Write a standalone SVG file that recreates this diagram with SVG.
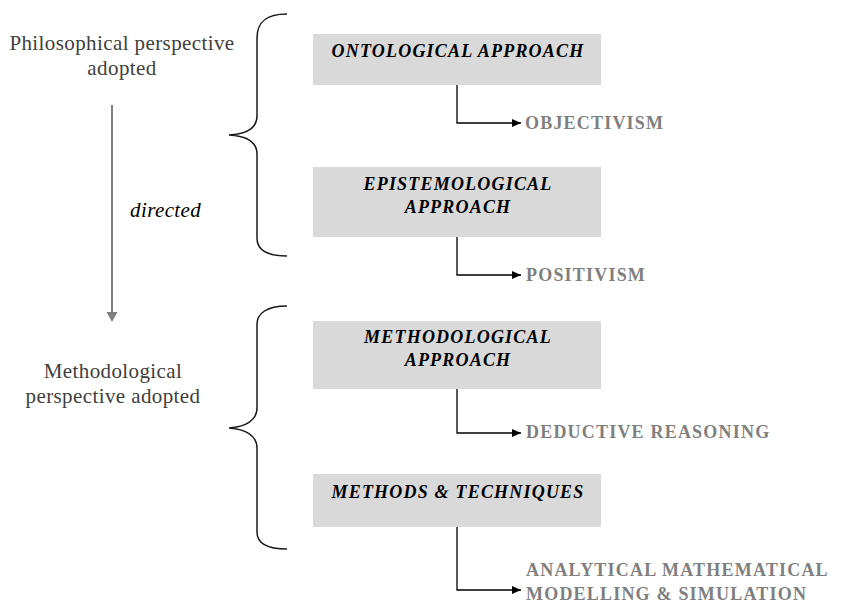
<svg xmlns="http://www.w3.org/2000/svg" width="841" height="604" viewBox="0 0 841 604" font-family="'Liberation Serif', 'DejaVu Serif', serif">
<style>
.box{fill:#d9d9d9}
.bt{font-size:18px;font-weight:bold;font-style:italic;fill:#000;letter-spacing:1.2px;text-anchor:middle}
.lab{font-size:18px;font-weight:bold;fill:#7f7f7f;letter-spacing:1.2px}
.side{font-size:21px;fill:#404040;letter-spacing:0.4px;text-anchor:middle}
.conn{fill:none;stroke:#000;stroke-width:1.3}
.brace{fill:none;stroke:#1a1a1a;stroke-width:1.5}
</style>
<defs>
<marker id="ah" markerWidth="9" markerHeight="8" refX="9" refY="4" orient="auto" markerUnits="userSpaceOnUse">
<path d="M0,0 L9,4 L0,8 Z" fill="#000"/>
</marker>
</defs>
<rect width="841" height="604" fill="#fff"/>

<g id="label-philosophical">
<text class="side" x="122" y="50">Philosophical perspective</text>
<text class="side" x="122" y="75">adopted</text>
</g>
<g id="label-methodological">
<text class="side" x="113" y="378">Methodological</text>
<text class="side" x="113" y="403">perspective adopted</text>
</g>
<g id="directed-arrow">
<line x1="112" y1="105" x2="112" y2="313" stroke="#7f7f7f" stroke-width="2"/>
<path d="M106.5,312 L117.5,312 L112,322 Z" fill="#7f7f7f"/>
<text x="130" y="217" font-size="21" font-style="italic" letter-spacing="0.4" fill="#000">directed</text>
</g>
<g id="brace-1">
<path class="brace" d="M287,14 C266,14 257,22 257,38 V116 C257,128 246,134 229,135 C246,136 257,142 257,154 V238 C257,250 266,256 287,256"/>
</g>
<g id="brace-2">
<path class="brace" d="M287,306 C266,306 257,314 257,324 V408 C257,420 246,427 229,428 C246,429 257,436 257,448 V532 C257,543 266,549 287,549"/>
</g>

<g id="ontological">
<rect class="box" x="313" y="34" width="288" height="51"/>
<text class="bt" x="458" y="57">ONTOLOGICAL APPROACH</text>
</g>
<g id="epistemological">
<rect class="box" x="313" y="167" width="288" height="70"/>
<text class="bt" x="458" y="190">EPISTEMOLOGICAL</text>
<text class="bt" x="458" y="213">APPROACH</text>
</g>
<g id="methodological">
<rect class="box" x="313" y="321" width="288" height="68"/>
<text class="bt" x="458" y="343">METHODOLOGICAL</text>
<text class="bt" x="458" y="366">APPROACH</text>
</g>
<g id="methods">
<rect class="box" x="313" y="474" width="288" height="53"/>
<text class="bt" x="458" y="498">METHODS &amp; TECHNIQUES</text>
</g>

<g id="objectivism"><text class="lab" x="525" y="129">OBJECTIVISM</text></g>
<g id="positivism"><text class="lab" x="526" y="281">POSITIVISM</text></g>
<g id="deductive"><text class="lab" x="526" y="438">DEDUCTIVE REASONING</text></g>
<g id="analytical">
<text class="lab" x="526" y="576">ANALYTICAL MATHEMATICAL</text>
<text class="lab" x="526" y="600">MODELLING &amp; SIMULATION</text>
</g>

<g id="connectors">
<path class="conn" d="M457,85 V123 H521" marker-end="url(#ah)"/>
<path class="conn" d="M457,237 V275 H521" marker-end="url(#ah)"/>
<path class="conn" d="M457,389 V433 H521" marker-end="url(#ah)"/>
<path class="conn" d="M457,527 V590 H521" marker-end="url(#ah)"/>
</g>
</svg>
